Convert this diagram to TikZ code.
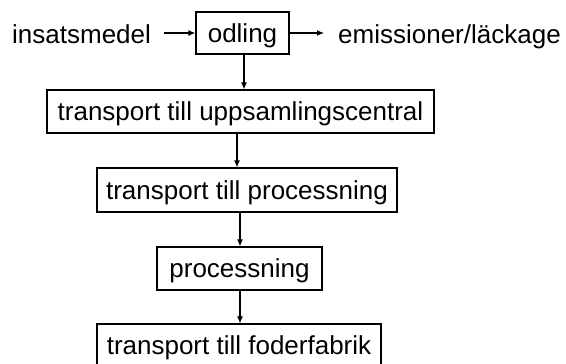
\documentclass[tikz,border=0pt]{standalone}
\usepackage{fontspec}
\setmainfont{Liberation Sans}
\usetikzlibrary{arrows.meta}
\begin{document}
\begin{tikzpicture}[x=1pt,y=-1pt,
  every node/.style={font=\fontsize{26}{30}\selectfont, text=black},
  box/.style={draw=black, line width=1.2pt, inner sep=0pt, text height=22pt, text depth=4pt},
  lbl/.style={inner sep=0pt, anchor=base west},
  arr/.style={line width=1.2pt, -{Latex[length=7pt,width=6pt]}}]
\useasboundingbox (0,0) rectangle (566,364);
\node[box, minimum width=93pt, minimum height=42pt] (odling) at (242.5,33) {odling};
\node[lbl] (ins) at (12,43) {insatsmedel};
\node[lbl] (emi) at (338,43) {emissioner/läckage};
\node[box, minimum width=387pt, minimum height=43pt] (b2) at (240.5,111.5) {transport till uppsamlingscentral};
\node[box, minimum width=300pt, minimum height=44pt] (b3) at (247,190) {transport till processning};
\node[box, minimum width=165pt, minimum height=43pt] (b4) at (239.5,268.5) {processning};
\node[box, minimum width=284pt, minimum height=43pt] (b5) at (239,345.5) {transport till foderfabrik};
\draw[arr] ([xshift=13pt]ins.east |- odling.west) -- (odling.west);
\draw[arr] (odling.east) -- ([xshift=-14pt]emi.west |- odling.east);
\draw[arr] ([xshift=1.5pt]odling.south) -- ([xshift=1.5pt]odling.south |- b2.north);
\draw[arr] ([xshift=-3.5pt]b2.south) -- ([xshift=-3.5pt]b2.south |- b3.north);
\draw[arr] ([xshift=0.5pt]b4.north |- b3.south) -- ([xshift=0.5pt]b4.north);
\draw[arr] ([xshift=0.5pt]b4.south) -- ([xshift=0.5pt]b4.south |- b5.north);
\end{tikzpicture}
\end{document}
